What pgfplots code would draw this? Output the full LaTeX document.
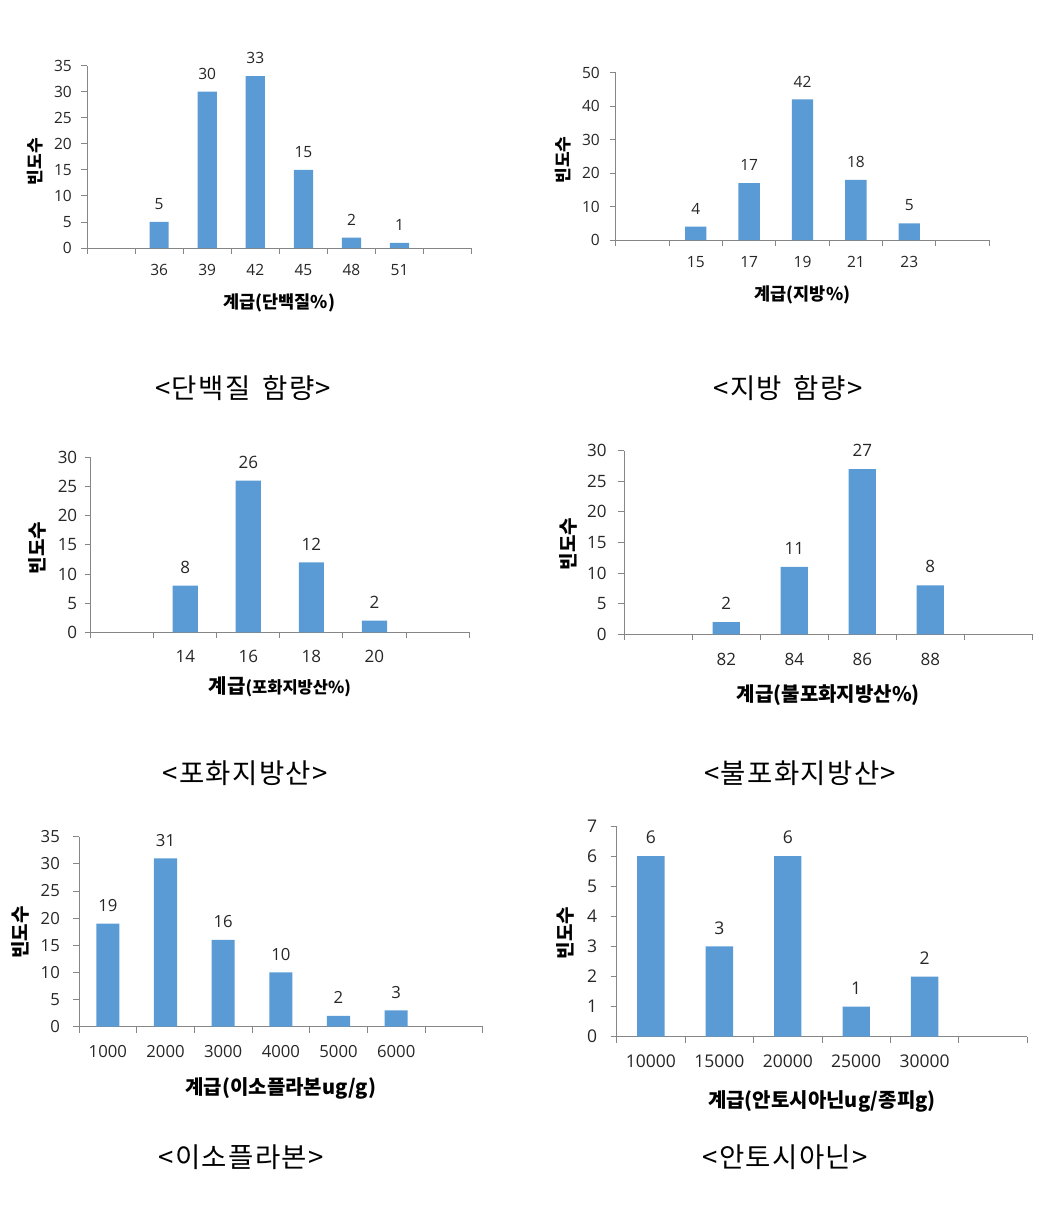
\documentclass[border=0pt]{standalone}
\usepackage{fontspec}
\setmainfont{Open Sans}
\newfontfamily\kr{Noto Sans CJK KR}
\newfontfamily\krcap[LetterSpace=5]{Noto Sans CJK KR}
\usepackage{pgfplots}
\pgfplotsset{compat=1.18}
\definecolor{barblue}{RGB}{91,155,213}
\definecolor{axgray}{RGB}{134,134,134}
\definecolor{txt}{RGB}{38,38,38}
\newcommand\fs[1]{\fontsize{#1bp}{#1bp}\selectfont}

\pgfplotsset{
  hist/.style={
    scale only axis, clip=false, anchor=south west,
    axis x line=bottom, axis y line=left,
    axis line style={-, draw=axgray, line width=0.9bp},
    tick style={draw=axgray, line width=0.9bp},
    major tick length=6bp, tick align=outside,
    ymin=0, ybar, bar width=0.4,
    x tick label as interval,
    /pgf/number format/assume math mode=true,
    tick label style={text=txt},
    xticklabel style={anchor=center},
    yticklabel style={anchor=east, inner sep=0pt},
    nodes near coords,
    nodes near coords style={text=txt, inner sep=0pt, anchor=south, yshift=12bp},
    ylabel={\kr\bfseries 빈도수},
  },
  bars/.style={fill=barblue, draw=none},
}

\begin{document}
\begin{tikzpicture}
\path[use as bounding box] (0,0) rectangle (1054bp,-1210bp);

% 단백질
\begin{axis}[hist, at={(87bp,-248bp)}, width=384.7bp, height=182.3bp,
  xmin=-0.5, xmax=7.5, ymax=35, ytick={0,5,...,35},
  xtick={-0.5,0.5,...,7.5}, xticklabels={{},36,39,42,45,48,51,{}},
  tick label style={font=\fs{15.5}}, nodes near coords style={font=\fs{15.5}},
  xticklabel style={yshift=-16bp}, yticklabel style={xshift=-9bp},
  xlabel={계급(단백질\%)},
  xlabel style={at={(axis description cs:0.5,-0.302)}, anchor=center, font=\kr\bfseries\fs{17.5}},
  ylabel style={at={(axis description cs:-0.135,0.473)}, anchor=center, font=\fs{17}},
]
\addplot[bars] coordinates {(1,5) (2,30) (3,33) (4,15) (5,2) (6,1)};
\end{axis}

% 지방
\begin{axis}[hist, at={(615.7bp,-240bp)}, width=373.6bp, height=167.3bp,
  xmin=-0.5, xmax=6.5, ymax=50, ytick={0,10,...,50},
  xtick={-0.5,0.5,...,6.5}, xticklabels={{},15,17,19,21,23,{}},
  tick label style={font=\fs{15.5}}, nodes near coords style={font=\fs{15.5}},
  xticklabel style={yshift=-16bp}, yticklabel style={xshift=-9.7bp},
  xlabel={계급(지방\%)},
  xlabel style={at={(axis description cs:0.5,-0.329)}, anchor=center, font=\kr\bfseries\fs{17.5}},
  ylabel style={at={(axis description cs:-0.141,0.478)}, anchor=center, font=\fs{17}},
]
\addplot[bars] coordinates {(1,4) (2,17) (3,42) (4,18) (5,5)};
\end{axis}

% 포화지방산
\begin{axis}[hist, at={(90.7bp,-632.3bp)}, width=378.3bp, height=175bp,
  xmin=-0.5, xmax=5.5, ymax=30, ytick={0,5,...,30},
  xtick={-0.5,0.5,...,5.5}, xticklabels={{},14,16,18,20,{}},
  tick label style={font=\fs{17}}, nodes near coords style={font=\fs{17}},
  xticklabel style={yshift=-18.4bp}, yticklabel style={xshift=-7.3bp},
  xlabel={{\fs{20}계급}{\fs{16.5}(포화지방산\%)}},
  xlabel style={at={(axis description cs:0.5,-0.311)}, anchor=center, font=\kr\bfseries},
  ylabel style={at={(axis description cs:-0.142,0.482)}, anchor=center, font=\fs{19}},
]
\addplot[bars] coordinates {(1,8) (2,26) (3,12) (4,2)};
\end{axis}

% 불포화지방산
\begin{axis}[hist, at={(624.3bp,-634.3bp)}, width=408bp, height=183.6bp,
  xmin=-0.5, xmax=5.5, ymax=30, ytick={0,5,...,30},
  xtick={-0.5,0.5,...,5.5}, xticklabels={{},82,84,86,88,{}},
  tick label style={font=\fs{17}}, nodes near coords style={font=\fs{17}},
  xticklabel style={yshift=-18.7bp}, yticklabel style={xshift=-11.6bp},
  xlabel={계급(불포화지방산\%)},
  xlabel style={at={(axis description cs:0.5,-0.331)}, anchor=center, font=\kr\bfseries\fs{20}},
  ylabel style={at={(axis description cs:-0.138,0.492)}, anchor=center, font=\fs{19}},
]
\addplot[bars] coordinates {(1,2) (2,11) (3,27) (4,8)};
\end{axis}

% 이소플라본
\begin{axis}[hist, at={(79bp,-1026.7bp)}, width=403.7bp, height=190bp,
  xmin=-0.5, xmax=6.5, ymax=35, ytick={0,5,...,35},
  xtick={-0.5,0.5,...,6.5}, xticklabels={1000,2000,3000,4000,5000,6000,{}},
  tick label style={font=\fs{16.7}}, nodes near coords style={font=\fs{16.7}},
  xticklabel style={yshift=-19.3bp}, yticklabel style={xshift=-13bp},
  xlabel={계급(이소플라본ug/g)},
  xlabel style={at={(axis description cs:0.5,-0.323)}, anchor=center, font=\kr\bfseries\fs{20}},
  ylabel style={at={(axis description cs:-0.146,0.496)}, anchor=center, font=\fs{19}},
]
\addplot[bars] coordinates {(0,19) (1,31) (2,16) (3,10) (4,2) (5,3)};
\end{axis}

% 안토시아닌
\begin{axis}[hist, at={(616.7bp,-1036.7bp)}, width=410.6bp, height=210.7bp,
  xmin=-0.5, xmax=5.5, ymax=7, ytick={0,1,...,7},
  xtick={-0.5,0.5,...,5.5}, xticklabels={10000,15000,20000,25000,30000,{}},
  tick label style={font=\fs{17.5}}, nodes near coords style={font=\fs{17.5}},
  xticklabel style={yshift=-19bp}, yticklabel style={xshift=-13.4bp},
  xlabel={계급(안토시아닌ug/종피g)},
  xlabel style={at={(axis description cs:0.5,-0.308)}, anchor=center, font=\kr\bfseries\fs{20}},
  ylabel style={at={(axis description cs:-0.126,0.492)}, anchor=center, font=\fs{19}},
]
\addplot[bars] coordinates {(0,6) (1,3) (2,6) (3,1) (4,2)};
\end{axis}

% captions
\begin{scope}[every node/.style={font=\krcap\fs{27.5}, text=black}]
\node at (243bp,-388bp) {<단백질\hspace{12bp}함량>};
\node at (788bp,-388bp) {<지방\hspace{12bp}함량>};
\node at (245bp,-773bp) {<포화지방산>};
\node at (800bp,-773bp) {<불포화지방산>};
\node at (241bp,-1157bp) {<이소플라본>};
\node at (785bp,-1157bp) {<안토시아닌>};
\end{scope}
\end{tikzpicture}
\end{document}
